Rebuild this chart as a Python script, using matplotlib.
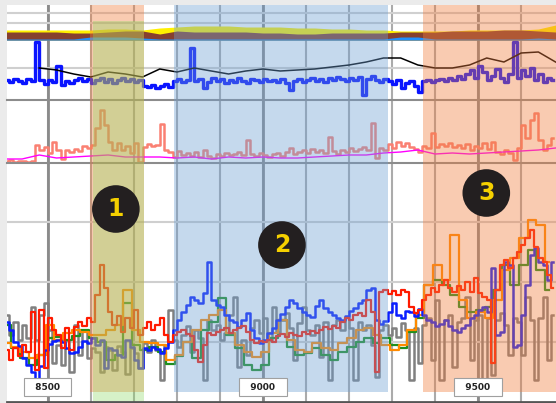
import numpy as np
import matplotlib
matplotlib.use('Agg')
import matplotlib.pyplot as plt
from matplotlib.transforms import blended_transform_factory

# depth grids (coarse / medium / fine)
depth_c = np.arange(8400, 9700, 40)
depth_m = np.arange(8405, 9685, 20)
depth_f = np.arange(8405, 9685, 10)

# track 1 : stacked fills
fill_yellow = [10, 10, 10, 10, 10, 10, 11, 11, 10, 12, 13, 14, 14, 14, 13, 13, 13, 12, 12, 11, 11,
               10, 10, 9, 9, 9, 9, 10, 10, 10, 10, 11, 15]
fill_brown = [8, 8, 8, 8, 7, 7, 8, 9, 9, 6, 9, 8, 8, 8, 8, 7, 7, 6, 6, 7, 7, 7, 7, 8, 8, 8, 9, 9, 9,
              10, 10, 9, 8]
fill_blue = [1, 1, 1, 1, 1, 3, 3, 3, 2, 1, 1, 1, 1, 1, 1, 1, 1, 1, 1, 1, 1, 1, 1, 3, 3, 1, 1, 1, 1,
             1, 1, 2, 1]

# track 2
t2_black = [np.nan, np.nan, 32, 30, 26, 23, 28, 26, 23, 31, 28, 32, 29, 26, 29, 31, 29, 30, 31, 33,
            35, 38, 42, 42, 35, 32, 32, 35, 42, 38, 47, 48, 38]
t2_blue = [20, 18, 21, 19, 17, 21, 19, 58, 20, 16,
           20, 18, 34, 15, 19, 17, 20, 22, 19, 21,
           17, 20, 22, 18, 21, 17, 20, 22, 19, 21,
           18, 20, 14, 13, 15, 12, 14, 16, 13, 19,
           21, 18, 20, 52, 19, 21, 12, 18, 22, 19,
           21, 17, 20, 18, 22, 19, 17, 21, 20, 18,
           21, 19, 20, 18, 21, 17, 10, 19, 21, 18,
           20, 22, 19, 21, 18, 22, 20, 23, 21, 19,
           22, 20, 23, 5, 21, 24, 20, 18, 21, 19,
           16, 20, 12, 17, 19, 14, 8, 19, 20, 18,
           20, 21, 19, 22, 20, 24, 21, 26, 30, 22,
           34, 28, 20, 24, 31, 22, 18, 26, 58, 22,
           30, 24, 32, 20, 26, 18, 22, 20]

# track 3
t3_salmon = [2, 3, 1, 2, 2, 1, 2, 18, 13, 16,
             10, 21, 13, 4, 13, 11, 14, 12, 17, 15,
             18, 35, 53, 38, 21, 13, 20, 13, 17, 10,
             20, 1, 16, 19, 17, 18, 39, 13, 11, 6,
             12, 8, 10, 7, 11, 6, 13, 7, 5, 9,
             7, 10, 8, 9, 11, 8, 23, 9, 7, 10,
             8, 6, 9, 10, 7, 11, 15, 9, 11, 13,
             10, 14, 11, 13, 10, 26, 12, 9, 13, 11,
             15, 12, 14, 16, 13, 40, 5, 15, 13, 19,
             15, 21, 17, 20, 16, 14, 11, 17, 15, 30,
             16, 19, 17, 20, 16, 18, 15, 19, 13, 17,
             15, 20, 14, 21, 11, 9, 13, 10, 3, 15,
             38, 25, 43, 50, 23, 13, 18, 25]
t3_magenta = [4, 4, 8, 5, 6, 7, 8, 6, 6, 6, 5, 6, 4, 6, 5, 6, 5, 5, 6, 7, 8, 8, 10, 11, 13, 9, 10,
              9, 10, 11, 12, 13, 15]

# track 4
t4_red = [52, 42, 54, 46, 57, 50, 90, 32, 92, 34,
          84, 72, 67, 54, 74, 52, 75, 80, 76, 84,
          80, 107, 137, 114, 90, 77, 86, 70, 84, 74,
          92, 67, 74, 80, 72, 77, 84, 67, 60, 67,
          70, 72, 68, 66, 52, 40, 57, 69, 67, 70,
          72, 74, 69, 72, 74, 76, 70, 62, 59, 61,
          60, 62, 60, 66, 68, 65, 69, 67, 66, 70,
          68, 71, 69, 72, 75, 73, 76, 74, 80, 84,
          82, 87, 89, 86, 102, 90, 30, 110, 112, 108,
          111, 107, 112, 110, 95, 89, 92, 102, 107, 114,
          110, 117, 122, 114, 110, 116, 112, 120, 110, 124,
          109, 105, 102, 39, 112, 137, 142, 134, 144, 150,
          157, 164, 172, 155, 144, 140, 127, 114]
t4_blue = [80, 72, 60, 56, 44, 37, 30, 22, 36, 52,
           58, 61, 62, 60, 54, 49, 50, 55, 61, 59,
           64, 57, 62, 34, 54, 52, 47, 45, 62, 55,
           42, 34, 54, 52, 55, 53, 49, 54, 60, 72,
           82, 90, 97, 105, 102, 99, 109, 140, 102, 97,
           95, 87, 82, 80, 75, 82, 89, 72, 64, 59,
           62, 69, 74, 82, 88, 95, 102, 99, 94, 90,
           87, 85, 96, 102, 94, 90, 87, 84, 82, 86,
           91, 94, 99, 102, 112, 114, 82, 78, 81, 90,
           99, 87, 84, 91, 90, 86, 93, 87, 82, 80,
           76, 78, 82, 76, 72, 70, 74, 77, 84, 87,
           92, 95, 90, 134, 67, 70, 140, 137, 55, 57,
           87, 117, 147, 154, 140, 137, 122, 140]
t4_gray = [87, 67, 80, 62, 77, 64, 95, 62, 87, 99,
           72, 39, 57, 37, 62, 30, 77, 47, 72, 44,
           54, 50, 30, 55, 52, 32, 56, 50, 28, 54,
           49, 34, 59, 50, 62, 52, 22, 57, 92, 62,
           55, 67, 76, 50, 72, 64, 22, 82, 72, 77,
           62, 69, 87, 105, 35, 62, 47, 74, 82, 69,
           84, 62, 95, 70, 82, 89, 74, 42, 79, 95,
           72, 67, 77, 45, 80, 22, 77, 82, 72, 85,
           74, 22, 80, 72, 77, 57, 25, 72, 77, 67,
           74, 65, 79, 72, 22, 74, 39, 77, 84, 42,
           102, 22, 82, 87, 35, 80, 84, 105, 42, 82,
           87, 22, 84, 27, 82, 89, 77, 47, 84, 80,
           47, 105, 82, 22, 84, 105, 42, 87]
t4_orange = [59, 55, 50, 44, 47, 77, 62, 69, 72, 70,
             67, 67, 72, 77, 112, 72, 60, 59, 57, 42,
             47, 60, 72, 82, 87, 92, 69, 57, 50, 45,
             50, 69, 82, 62, 52, 50, 59, 54, 52, 59,
             64, 72, 74, 67, 57, 52, 57, 72, 87, 117,
             137, 122, 167, 102, 84, 90, 84, 102, 132, 144,
             164, 182, 177, 140]
t4_green = [77, 54, 44, 37, 47, 64, 65, 62, 66, 72,
            64, 60, 42, 47, 99, 57, 52, 55, 50, 38,
            46, 60, 44, 72, 80, 104, 67, 54, 37, 32,
            37, 64, 82, 55, 47, 49, 54, 47, 42, 50,
            55, 60, 64, 59, 64, 57, 54, 70, 84, 117,
            122, 117, 107, 95, 90, 92, 95, 112, 137, 117,
            137, 152, 132, 112]

region_spans = [(8598, 8723), (8793, 9291), (9372, 9700)]
region_colors = ['#f07d3e', '#6ea0d4', '#f07d3e']
mark_depths = [8500, 9000, 9500]
callouts = [('1', 8658, 193), ('2', 9044, 157), ('3', 9519, 209)]

W, H = 556, 403
fig = plt.figure(figsize=(W / 100, H / 100), dpi=100, facecolor='#ebebeb')


def track(top, bottom, z):
    ax = fig.add_axes([7 / W, (H - bottom) / H, (W - 7) / W, (bottom - top) / H], zorder=z)
    ax.set_xlim(8405, 9681)
    ax.set_facecolor('none')
    ax.set_xticks([])
    ax.set_yticks([])
    ax.tick_params(length=0, labelleft=False, labelbottom=False)
    for s in ax.spines.values():
        s.set_visible(False)
    return ax


# background + vertical grid
bg = track(5, 402, 0)
bg.set_facecolor('white')
bg.set_xticks(np.arange(8500, 9700, 100))
bg.grid(axis='x', color='#ababab', lw=1.5)
for d in mark_depths:
    bg.axvline(d, color='#8a8a8a', lw=2)

# track 1
ax1 = track(5, 40, 1)
ax1.set_ylim(0, 35)
ax1.set_yticks([17, 27])
ax1.grid(axis='y', color='#d0d0d0', lw=1.5)
ax1.fill_between(depth_c, 0, fill_yellow, color='#fff000', lw=0)
ax1.fill_between(depth_c, 0, fill_brown, color='#86402f', lw=0)
ax1.fill_between(depth_c, 0, fill_blue, color='#1e90ff', lw=0)

# track 2
ax2 = track(40, 100, 2)
ax2.set_ylim(0, 60)
ax2.set_yticks([32])
ax2.grid(axis='y', color='#cfcfcf', lw=1.5)
ax2.spines['bottom'].set_visible(True)
ax2.spines['bottom'].set_color('#8c8c8c')
ax2.spines['bottom'].set_linewidth(1.5)
ax2.plot(depth_f, t2_blue, color='#0a14ff', lw=2.4, drawstyle='steps-mid')
ax2.plot(depth_c, t2_black, color='black', lw=1.1)

# track 3
ax3 = track(100, 163, 3)
ax3.set_ylim(0, 63)
ax3.spines['bottom'].set_visible(True)
ax3.spines['bottom'].set_color('#8c8c8c')
ax3.spines['bottom'].set_linewidth(1.5)
ax3.plot(depth_f, t3_salmon, color='#fa8072', lw=1.8, drawstyle='steps-mid')
ax3.plot(depth_c, t3_magenta, color='#ff00ff', lw=1.0)

# track 4
ax4 = track(162, 402, 4)
ax4.set_ylim(0, 240)
ax4.set_yticks([60, 120, 180])
ax4.grid(axis='y', color='#cfcfcf', lw=1.5)
ax4.plot(depth_f, t4_gray, color='#808080', lw=1.8, drawstyle='steps-mid')
ax4.plot(depth_m, t4_green, color='#1f8f1f', lw=1.6, drawstyle='steps-mid')
ax4.plot(depth_m, t4_orange, color='#ff8a00', lw=1.6, drawstyle='steps-mid')
ax4.plot(depth_f, t4_blue, color='#0a1eff', lw=1.8, drawstyle='steps-mid')
ax4.plot(depth_f, t4_red, color='#ff1a00', lw=1.6, drawstyle='steps-mid')

# overlay : shaded intervals, callouts, depth marks
ov = track(5, 402, 10)
ov.set_ylim(0, 1)
ov.spines['bottom'].set_visible(True)
ov.spines['bottom'].set_color('#555555')
ov.spines['bottom'].set_linewidth(2)
for (d0, d1), c in zip(region_spans, region_colors):
    ov.axvspan(d0, d1, ymin=10 / 397, ymax=1, color=c, alpha=0.4, lw=0)
ov.axvspan(8605, 8723, ymin=0, ymax=381 / 397, color='#8ad962', alpha=0.35, lw=0)

tr = blended_transform_factory(ov.transData, ax4.transData)
for txt, d, v in callouts:
    ov.text(d, v, txt, transform=tr, ha='center', va='center', fontsize=17,
            fontweight='bold', color='#f5d000',
            bbox=dict(boxstyle='circle,pad=0.5', fc='#231f20', ec='none'))

for d in mark_depths:
    ov.text(d, 15 / 397, '  %d  ' % d, transform=ov.get_xaxis_transform(), ha='center',
            va='center', fontsize=6.5, fontweight='bold', color='#222222',
            bbox=dict(boxstyle='square,pad=0.55', fc='white', ec='#a0a0a0', lw=0.8))

fig.savefig('out.png', dpi=100, facecolor=fig.get_facecolor())
